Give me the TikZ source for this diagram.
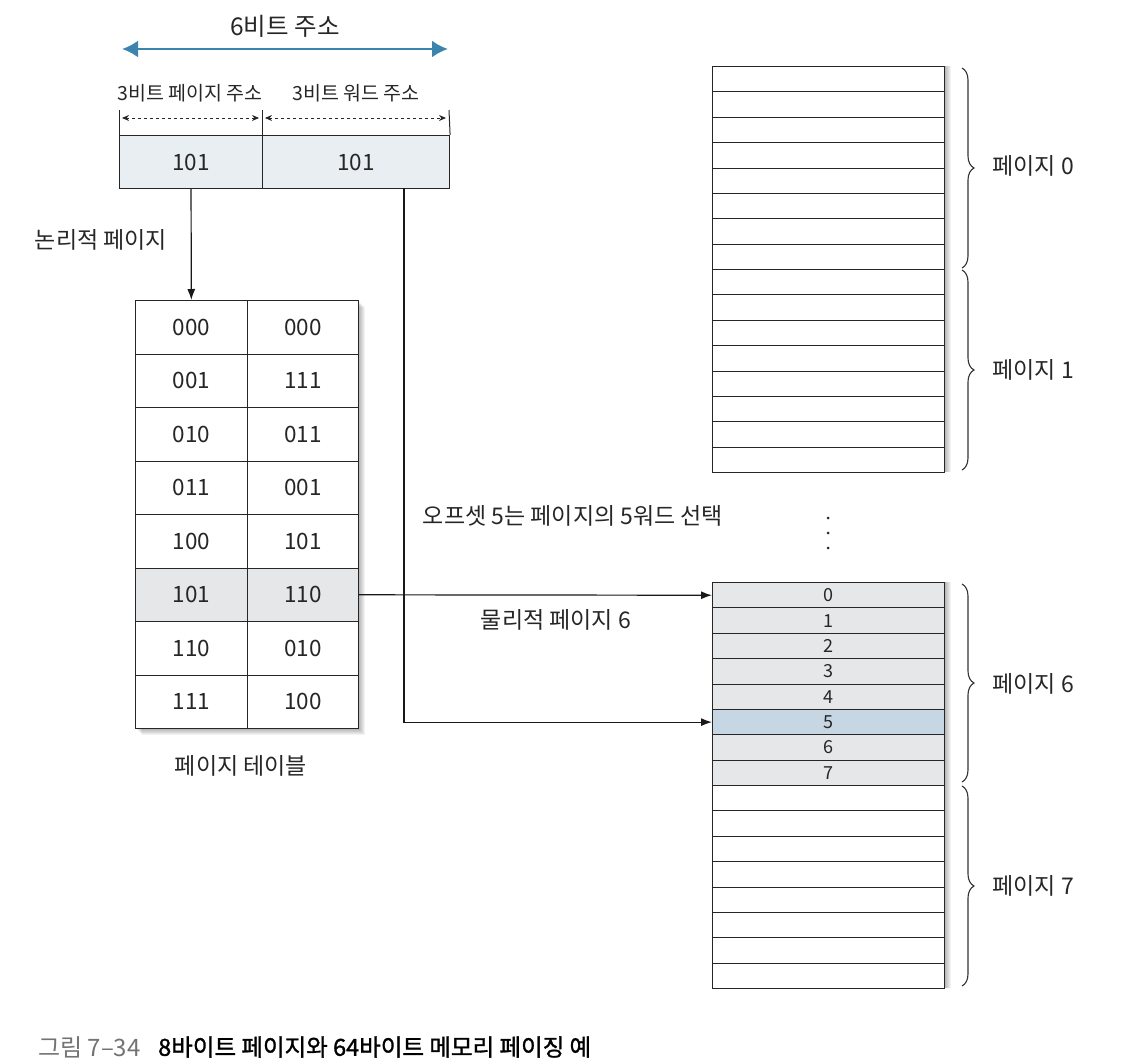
\documentclass[tikz,border=0pt]{standalone}
\usepackage{fontspec}
\setmainfont{Noto Sans CJK KR}
\usetikzlibrary{arrows.meta,decorations.pathreplacing}
\definecolor{addrfill}{HTML}{E9EEF3}
\definecolor{rowgray}{HTML}{E6E7E8}
\definecolor{rowblue}{HTML}{C6D7E3}
\definecolor{bluearrow}{HTML}{3A84AE}
\definecolor{txt}{HTML}{262626}
\begin{document}
\begin{tikzpicture}[x=1pt,y=-1pt,
  every node/.style={text=txt},
  line/.style={draw=black!85,line width=1.1pt},
  addrcell/.style={line,fill=addrfill,anchor=north west,inner sep=0pt,font=\fontsize{22.5}{26}\selectfont},
  tabcell/.style={line,anchor=north west,inner sep=0pt,minimum width=111.5pt,minimum height=53.5pt,font=\fontsize{22.5}{26}\selectfont},
  memcell/.style={line,anchor=north west,inner sep=0pt,minimum width=232pt,minimum height=25.375pt,font=\fontsize{18}{20}\selectfont},
  lbl/.style={font=\fontsize{23}{26}\selectfont},
  small/.style={font=\fontsize{19.5}{22}\selectfont},
  conn/.style={draw=black!90,line width=1.2pt,-{Latex[length=11pt,width=8pt]}},
  brc/.style={draw=black!80,line width=1.1pt,decorate,decoration={brace,amplitude=12pt}},
  shadowlayer/.style={fill=black,opacity=0.05}
]
\useasboundingbox (0,0) rectangle (1128,1060);

% shadows
\foreach \d in {1,2,...,7}{
  \fill[shadowlayer] (135+\d,300+\d) rectangle (358+\d,728+\d);
  \fill[shadowlayer] (712+\d,66) rectangle (944+\d,472);
  \fill[shadowlayer] (712+\d,582) rectangle (944+\d,988);
}

% top blue arrow
\coordinate (bl) at (122,49);
\coordinate (br) at (448,49);
\draw[draw=bluearrow,line width=2.6pt,{Latex[length=16pt,width=17pt]}-{Latex[length=16pt,width=17pt]}] (bl) -- (br);
\node[font=\fontsize{24.5}{28}\selectfont] (t6) at (285,26) {6비트 주소};

\node[small] (pgl) at (190,93) {3비트 페이지 주소};
\node[small] (wdl) at (356,93) {3비트 워드 주소};

% address boxes
\node[addrcell,minimum width=143pt,minimum height=53pt] (a1) at (119,135) {101};
\node[addrcell,minimum width=187pt,minimum height=53pt] (a2) at (262,135) {101};

% ticks and dashed arrows
\coordinate (k1) at (119,110);
\coordinate (k2) at (262,110);
\coordinate (k3) at (449,110);
\draw[line width=1pt,black!85] (k1) -- (a1.north west);
\draw[line width=1pt,black!85] (k2) -- (a2.north west);
\draw[line width=1pt,black!85] (k3) -- (a2.north east);
\coordinate (d1) at (122,118);
\coordinate (d2) at (259,118);
\coordinate (d3) at (265,118);
\coordinate (d4) at (446,118);
\draw[black!85,line width=0.9pt,dashed,{Stealth[length=7pt,width=6pt]}-{Stealth[length=7pt,width=6pt]}] (d1) -- (d2);
\draw[black!85,line width=0.9pt,dashed,{Stealth[length=7pt,width=6pt]}-{Stealth[length=7pt,width=6pt]}] (d3) -- (d4);

% page table
\foreach \a/\b/\c [count=\i from 0] in {000/000/white,001/111/white,010/011/white,011/001/white,100/101/white,101/110/rowgray,110/010/white,111/100/white}{
  \node[tabcell,fill=\c] (l\i) at (135,300+\i*53.5) {\a};
  \node[tabcell,fill=\c] (r\i) at (246.5,300+\i*53.5) {\b};
}
\node[lbl] (ptl) at (241,766) {페이지 테이블};

% memory top block
\foreach \i in {0,...,15}{
  \node[memcell,fill=white] (m\i) at (712,66+\i*25.375) {};
}
% memory bottom block
\foreach \t/\c [count=\i from 0] in {0/rowgray,1/rowgray,2/rowgray,3/rowgray,4/rowgray,5/rowblue,6/rowgray,7/rowgray,{}/white,{}/white,{}/white,{}/white,{}/white,{}/white,{}/white,{}/white}{
  \node[memcell,fill=\c] (p\i) at (712,582+\i*25.375) {\t};
}

% braces and labels
\draw[brc] (962,68) -- (962,268);
\draw[brc] (962,270) -- (962,470);
\draw[brc] (962,584) -- (962,782);
\draw[brc] (962,786) -- (962,986);
\node[lbl,anchor=west] (b0) at (989,166) {페이지 0};
\node[lbl,anchor=west] (b1) at (989,370) {페이지 1};
\node[lbl,anchor=west] (b6) at (989,684) {페이지 6};
\node[lbl,anchor=west] (b7) at (989,886) {페이지 7};

% dots
\foreach \yy in {518,533,548}{\fill[black!85] (828,\yy) circle (1.5pt);}

% connectors
\draw[conn] (a1.south) -- (l0.north);
\node[lbl] (logl) at (101,240) {논리적 페이지};
\draw[conn] (r5.east) -- (p0.west);
\node[lbl] (phyl) at (556,620) {물리적 페이지 6};
\coordinate (wtap) at (404,188);
\draw[conn] (wtap) |- (p5.west);
\node[lbl] (offl) at (573,516) {오프셋 5는 페이지의 5워드 선택};

% caption
\node[anchor=west,inner sep=0pt,font=\fontsize{24}{27}\selectfont,text=black!55] (cap1) at (38,1047) {그림 7–34};
\node[anchor=west,inner sep=0pt,font=\fontsize{23.5}{26}\selectfont\addfontfeature{FakeBold=1.2},text=black] (cap2) at (158,1047) {8바이트 페이지와 64바이트 메모리 페이징 예};
\end{tikzpicture}
\end{document}
